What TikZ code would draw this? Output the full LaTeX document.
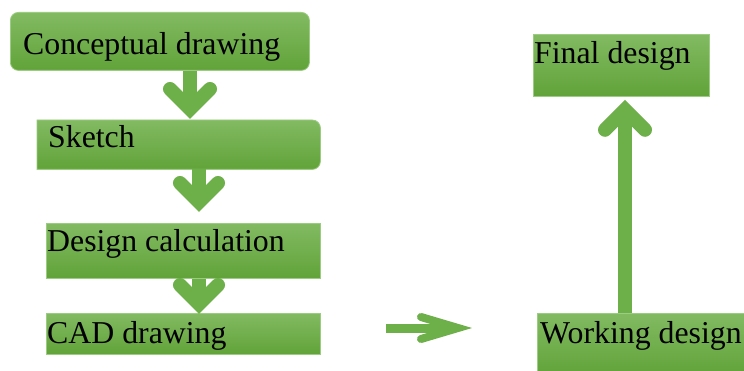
\documentclass[tikz,border=0pt]{standalone}
\usepackage{fontspec}
\setmainfont{Liberation Serif}
\usetikzlibrary{calc}
\definecolor{gtop}{HTML}{82BA62}
\definecolor{gbot}{HTML}{61A339}
\definecolor{gedge}{HTML}{9CCB82}
\definecolor{garr}{HTML}{6DAF48}
\tikzset{
 box/.style={top color=gtop, bottom color=gbot, draw=gedge, line width=0.8pt, inner sep=0pt, anchor=north west},
 plainbox/.style={inner sep=0pt, anchor=north west},
 lbl/.style={anchor=base west, inner sep=0pt, font=\fontsize{31.8}{36}\selectfont, text=black},
 shaft/.style={draw=garr, line width=14pt},
 head/.style={draw=garr, line width=14pt, line cap=round, line join=miter},
}
\begin{document}
\begin{tikzpicture}[x=1pt,y=-1pt]
\useasboundingbox (0,0) rectangle (744,371);
% boxes
\node[box, rounded corners=8pt, minimum width=299pt, minimum height=58pt] (c1) at (10,12) {};
\node[plainbox, minimum width=283pt, minimum height=49pt] (c2) at (37,120) {};
\path[top color=gtop, bottom color=gbot, draw=gedge, line width=0.8pt]
  (c2.south west) -- (c2.north west) [rounded corners=8pt] -- (c2.north east) -- (c2.south east) [sharp corners] -- cycle;
\node[box, minimum width=274pt, minimum height=55pt] (c3) at (46,223) {};
\node[box, minimum width=274pt, minimum height=41pt] (c4) at (46,313) {};
\node[box, minimum width=176pt, minimum height=62pt] (f) at (533,34) {};
\node[box, minimum width=212pt, minimum height=62pt] (w) at (537,313) {};
% labels
\node[lbl] (c1t) at (23,55) {Conceptual drawing};
\node[lbl] (c2t) at (48,148) {Sketch};
\node[lbl] (c3t) at (47,252) {Design calculation};
\node[lbl] (c4t) at (47,343) {CAD drawing};
\node[lbl] (ft) at (534,64) {Final design};
\node[lbl] (wt) at (540,343) {Working design};
% arrow 1
\coordinate (ax1) at (190,0);
\coordinate (t1) at ($(c2.north -| ax1)+(0,-1)$);
\draw[shaft] (c1.south -| ax1) -- ($(t1)+(0,-12)$);
\draw[head] ($(t1)+(-20,-30)$) -- ($(t1)+(0,-10)$) -- ($(t1)+(20,-30)$);
% arrow 2
\coordinate (ax2) at (199,0);
\coordinate (t2) at ($(c3.north -| ax2)+(0,-11)$);
\draw[shaft] (c2.south -| ax2) -- ($(t2)+(0,-12)$);
\draw[head] ($(t2)+(-19,-29)$) -- ($(t2)+(0,-10)$) -- ($(t2)+(19,-29)$);
% arrow 3
\coordinate (t3) at ($(c4.north -| ax2)+(0,1)$);
\draw[shaft] (c3.south -| ax2) -- ($(t3)+(0,-12)$);
\draw[head] ($(t3)+(-19,-29)$) -- ($(t3)+(0,-10)$) -- ($(t3)+(19,-29)$);
% arrow 4 (up)
\coordinate (ax4) at (625,0);
\coordinate (t4) at ($(f.south -| ax4)+(0,3)$);
\draw[shaft] (w.north -| ax4) -- ($(t4)+(0,12)$);
\draw[head] ($(t4)+(-20,30)$) -- ($(t4)+(0,10)$) -- ($(t4)+(20,30)$);
% arrow 5 (right, free)
\coordinate (r0) at (386,328);
\coordinate (r1) at (472,328);
\draw[shaft, line width=9pt] (r0) -- ($(r1)+(-16,0)$);
\draw[head, line width=8pt] ($(r1)+(-51,-11)$) -- ($(r1)+(-14,0)$) -- ($(r1)+(-51,11)$);
\end{tikzpicture}
\end{document}
